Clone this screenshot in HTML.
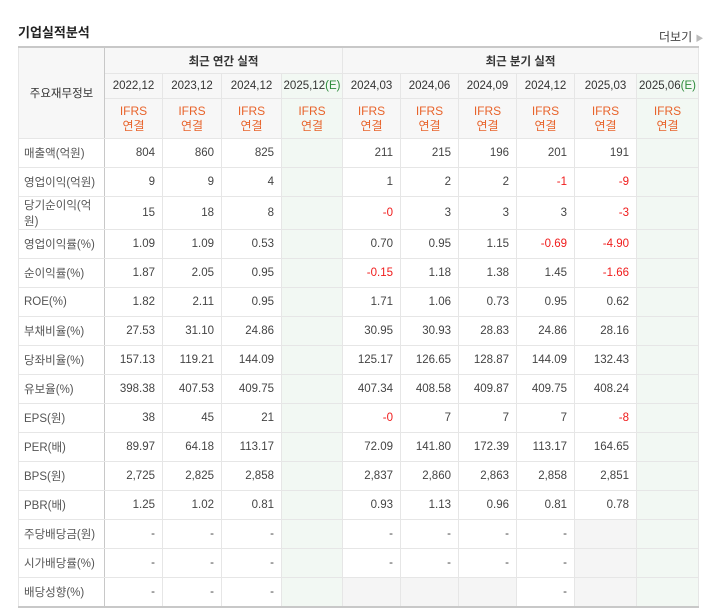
<!DOCTYPE html>
<html><head><meta charset="utf-8"><style>
html,body{margin:0;padding:0;background:#fff;width:711px;height:609px;overflow:hidden;font-family:"Liberation Sans","Noto Sans CJK KR",sans-serif;}
.title{position:absolute;left:18px;top:22px;font-size:13px;font-weight:bold;color:#222;}
.more{position:absolute;left:659px;top:28px;font-size:12px;color:#444;}
.more span{color:#bbb;font-size:8px;}
table{position:absolute;left:18px;top:46px;border-collapse:collapse;table-layout:fixed;font-size:11.5px;color:#444;}
td,th{border:1px solid #e6e6e6;padding:0;font-weight:normal;}
th{background:#f7f7f7;color:#333;}
td{text-align:right;padding-right:7px;height:28px;}
td.lab{text-align:left;padding-left:5px;padding-right:0;color:#555;background:#fff;border-right:1px solid #c8c8c8;}
.h1{height:25px;font-weight:bold;font-size:11.5px;}
.h2{height:24px;}
.h3{height:39px;color:#e8632b;line-height:15px;font-size:12px;}
.e{background:#f2f8f3!important;}
.g{background:#f5f5f5;}
.n{color:#f01c1c;}
.gl{border-left:1px solid #c8c8c8;}
.bt td{border-top:1px solid #c8c8c8;}
tr.top th{border-top:2px solid #c8c8c8;}
tr.last td{border-bottom:2px solid #c8c8c8;}
.green{color:#2e8b3c;}
</style></head><body>
<div class="title">기업실적분석</div>
<div class="more">더보기 <span>▶</span></div>
<table>
<colgroup><col style="width:86px"><col style="width:58px"><col style="width:59px"><col style="width:60px"><col style="width:61px"><col style="width:58px"><col style="width:58px"><col style="width:58px"><col style="width:58px"><col style="width:62px"><col style="width:62px"></colgroup>
<tr class="top"><th rowspan="3" style="border-right:1px solid #c8c8c8">주요재무정보</th><th colspan="4" class="h1">최근 연간 실적</th><th colspan="6" class="h1 gl">최근 분기 실적</th></tr>
<tr id="periods"></tr>
<tr id="ifrs"></tr>
<tbody id="body"></tbody>
</table>
<script>
const periods=["2022.12","2023.12","2024.12","2025.12","2024.03","2024.06","2024.09","2024.12","2025.03","2025.06"];
const est=[3,9];
const labels=["매출액(억원)","영업이익(억원)","당기순이익(억원)","영업이익률(%)","순이익률(%)","ROE(%)","부채비율(%)","당좌비율(%)","유보율(%)","EPS(원)","PER(배)","BPS(원)","PBR(배)","주당배당금(원)","시가배당률(%)","배당성향(%)"];
const rows=[
["804","860","825","","211","215","196","201","191",""],
["9","9","4","","1","2","2","-1","-9",""],
["15","18","8","","-0","3","3","3","-3",""],
["1.09","1.09","0.53","","0.70","0.95","1.15","-0.69","-4.90",""],
["1.87","2.05","0.95","","-0.15","1.18","1.38","1.45","-1.66",""],
["1.82","2.11","0.95","","1.71","1.06","0.73","0.95","0.62",""],
["27.53","31.10","24.86","","30.95","30.93","28.83","24.86","28.16",""],
["157.13","119.21","144.09","","125.17","126.65","128.87","144.09","132.43",""],
["398.38","407.53","409.75","","407.34","408.58","409.87","409.75","408.24",""],
["38","45","21","","-0","7","7","7","-8",""],
["89.97","64.18","113.17","","72.09","141.80","172.39","113.17","164.65",""],
["2,725","2,825","2,858","","2,837","2,860","2,863","2,858","2,851",""],
["1.25","1.02","0.81","","0.93","1.13","0.96","0.81","0.78",""],
["-","-","-","","-","-","-","-",null,""],
["-","-","-","","-","-","-","-",null,""],
["-","-","-","",null,null,null,"-",null,""]];
const groupStarts=[3,6,9,13];
const pr=document.getElementById('periods'),ir=document.getElementById('ifrs');
periods.forEach((p,i)=>{
 const th=document.createElement('th');th.className='h2'+(est.includes(i)?' e':'')+(i==4?' gl':'');
 
 
 th.innerHTML=p.replace('.',',')+(est.includes(i)?'<span class="green">(E)</span>':'');pr.appendChild(th);
 const t2=document.createElement('th');t2.className='h3'+(est.includes(i)?' e':'')+(i==4?' gl':'');
 
 
 t2.innerHTML='IFRS<br>연결';ir.appendChild(t2);
});
const body=document.getElementById('body');
rows.forEach((r,ri)=>{
 const tr=document.createElement('tr');
 if(groupStarts.includes(ri))tr.className='bt';
 if(ri==rows.length-1)tr.className='last';
 
 
 const l=document.createElement('td');l.className='lab';l.textContent=labels[ri];
 
 
 tr.appendChild(l);
 r.forEach((v,ci)=>{
  const td=document.createElement('td');
  let c=[];if(est.includes(ci))c.push('e');if(v===null)c.push('g');if(v&&v[0]=='-'&&v.length>1)c.push('n');if(ci==4)c.push('gl');
  td.className=c.join(' ');td.textContent=v||'';
  
  
  tr.appendChild(td);
 });
 body.appendChild(tr);
});
</script>
</body></html>
